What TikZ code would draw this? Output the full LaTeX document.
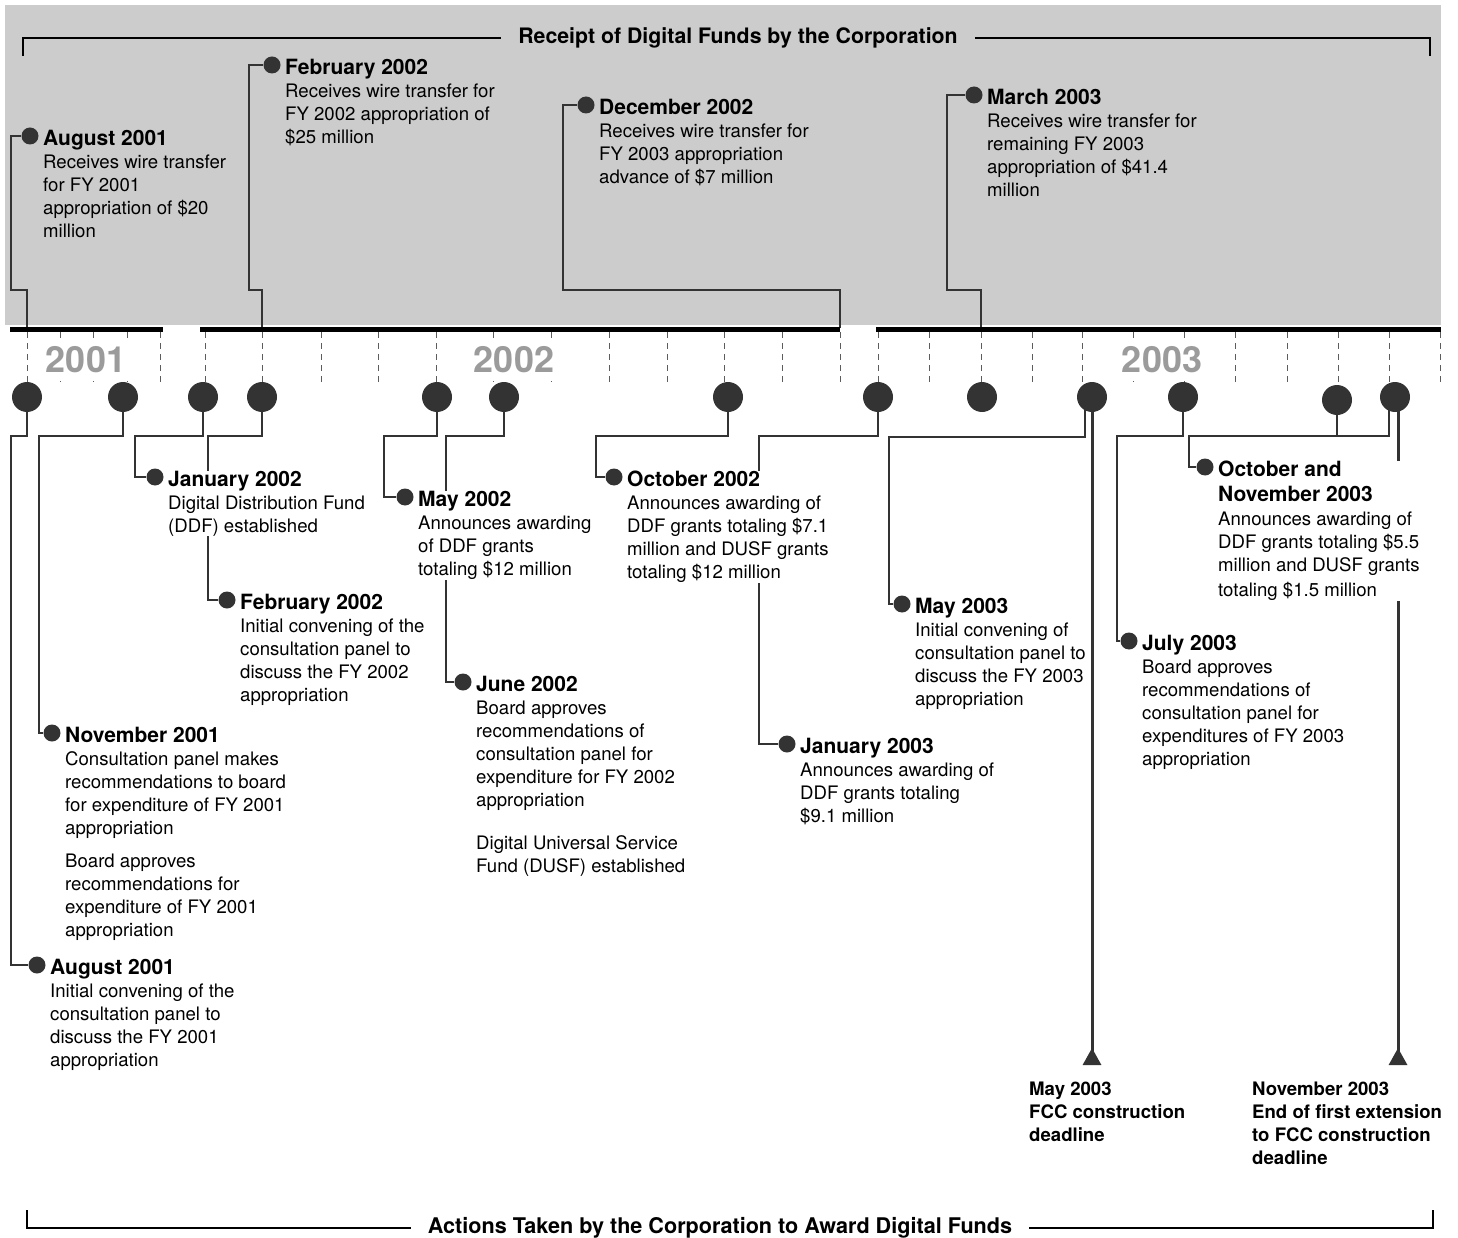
\documentclass[tikz,border=0pt]{standalone}
\usepackage{fontspec}
\setmainfont{TeX Gyre Heros}
\usetikzlibrary{arrows.meta,positioning,backgrounds}
\definecolor{panel}{RGB}{204,204,204}
\definecolor{ink}{RGB}{51,51,51}
\definecolor{yeargray}{RGB}{155,155,155}
\newcommand{\evhead}[1]{{\fontsize{21}{23}\selectfont\bfseries #1}}

\begin{document}
\begin{tikzpicture}[x=1pt,y=-1pt,
    month/.style={circle,fill=ink,minimum size=30pt,inner sep=0pt},
    evdot/.style={circle,fill=ink,minimum size=17pt,inner sep=0pt},
    evtext/.style={anchor=north west,inner sep=0pt,align=left,font=\fontsize{18.6}{23}\selectfont},
    plain/.style={},
    cover/.style={fill=white},
    link/.style={ink,line width=1.4pt},
    bracket/.style={black,line width=2.5pt},
    deadline/.style={ink,line width=3pt,-{Triangle[reversed,width=18pt,length=17pt]}},
    yearlbl/.style={font=\fontsize{36}{36}\selectfont\bfseries,text=yeargray,fill=white,inner xsep=4pt,inner ysep=8pt},
    headlbl/.style={font=\fontsize{21.3}{23}\selectfont\bfseries,inner ysep=0pt,inner xsep=17pt},
    dltext/.style={anchor=north west,inner sep=0pt,align=left,font=\fontsize{18.6}{23}\selectfont\bfseries}]

  \useasboundingbox (0,0) rectangle (1458,1238);
  \begin{scope}[on background layer]
    \fill[panel] (5,5) rectangle (1441,325);
  \end{scope}

  % brackets with titles
  \node[headlbl] (receipt) at (738,38) {Receipt of Digital Funds by the Corporation};
  \draw[bracket] (23,56) |- (receipt.west);
  \draw[bracket] (receipt.east) -| (1430,56);
  \node[headlbl,font=\fontsize{21.6}{23}\selectfont\bfseries] (actions) at (720,1228) {Actions Taken by the Corporation to Award Digital Funds};
  \draw[bracket] (27,1210) |- (actions.west);
  \draw[bracket] (actions.east) -| (1433,1210);

  % timeline bars
  \draw[black,line width=5pt] (10,329.5) -- (163,329.5);
  \draw[black,line width=5pt] (200,329.5) -- (840,329.5);
  \draw[black,line width=5pt] (876,329.5) -- (1441,329.5);

  % month ticks
  \foreach \x in {27,60,93,127,160,205,262,321,378,436,493,551,609,667,724,782,840,
                  878,929,981,1032,1082,1133,1184,1235,1287,1338,1389,1440}
    \draw[ink!80,line width=1pt,dash pattern=on 6pt off 5pt] (\x,332) -- (\x,386);

  \node[yearlbl] (y2001) at (86,360) {2001};
  \node[yearlbl] (y2002) at (514,360) {2002};
  \node[yearlbl] (y2003) at (1162,360) {2003};

  % month circles
  \foreach \x/\n in {27/aug01,123/nov01,203/jan02,262/feb02,437/may02,504/jun02,728/oct02,
                     878/jan03,982/mar03,1092/may03,1183/jul03,1395/nov03}
    \node[month] (c-\n) at (\x,397) {};
  \node[month] (c-oct03) at (1337,400) {};

  % points on the timeline
  \coordinate (t-aug01) at (27,328);
  \coordinate (t-feb02) at (262,328);
  \coordinate (t-dec02) at (840,328);
  \coordinate (t-mar03) at (981,328);

  % events
  \foreach \n/\tx/\y/\s/\t in {
    aug01/43/136/plain/{\evhead{August 2001}\\Receives wire transfer\\for FY 2001\\appropriation of \$20\\million},
    feb02/285/65/plain/{\evhead{February 2002}\\Receives wire transfer for\\FY 2002 appropriation of\\\$25 million},
    dec02/599/105/plain/{\evhead{December 2002}\\Receives wire transfer for\\FY 2003 appropriation\\advance of \$7 million},
    mar03/987/95/plain/{\evhead{March 2003}\\Receives wire transfer for\\remaining FY 2003\\appropriation of \$41.4\\million},
    jan02/168/477/cover/{\evhead{January 2002}\\Digital Distribution Fund\\(DDF) established},
    feb02b/240/600/plain/{\evhead{February 2002}\\Initial convening of the\\consultation panel to\\discuss the FY 2002\\appropriation},
    nov01/65/733/plain/{\evhead{November 2001}\\Consultation panel makes\\recommendations to board\\for expenditure of FY 2001\\appropriation\\[10pt]Board approves\\recommendations for\\expenditure of FY 2001\\appropriation},
    aug01b/50/965/plain/{\evhead{August 2001}\\Initial convening of the\\consultation panel to\\discuss the FY 2001\\appropriation},
    may02/418/497/cover/{\evhead{May 2002}\\Announces awarding\\of DDF grants\\totaling \$12 million},
    jun02/476/682/plain/{\evhead{June 2002}\\Board approves\\recommendations of\\consultation panel for\\expenditure for FY 2002\\appropriation\\[20pt]Digital Universal Service\\Fund (DUSF) established},
    oct02/627/477/cover/{\evhead{October 2002}\\Announces awarding of\\DDF grants totaling \$7.1\\million and DUSF grants\\totaling \$12 million},
    jan03/800/744/plain/{\evhead{January 2003}\\Announces awarding of\\DDF grants totaling\\\$9.1 million},
    may03/915/604/plain/{\evhead{May 2003}\\Initial convening of\\consultation panel to\\discuss the FY 2003\\appropriation},
    jul03/1142/641/plain/{\evhead{July 2003}\\Board approves\\recommendations of\\consultation panel for\\expenditures of FY 2003\\appropriation},
    octnov/1218/467/cover/{\evhead{October and}\\[2pt]\evhead{November 2003}\\[1pt]Announces awarding of\\DDF grants totaling \$5.5\\million and DUSF grants\\[2pt]totaling \$1.5 million}}
  {
    \node[evdot] (d-\n) at (\tx-13,\y) {};
    \node[evtext,\s] (e-\n) at (\tx,\y-6) {\t};
  }

  % construction deadlines
  \coordinate (dl-may03) at (1092,1065);
  \coordinate (dl-nov03) at (1398,1065);
  \node[dltext] (dt-may03) at (1029,1082) {May 2003\\FCC construction\\deadline};
  \node[dltext] (dt-nov03) at (1252,1082) {November 2003\\End of first extension\\to FCC construction\\deadline};

  \begin{scope}[on background layer]
    \foreach \t/\v in {aug01/11,feb02/249,dec02/563,mar03/947}
      \draw[link] (t-\t) |- (\v,290) |- (d-\t.west);
    \foreach \c/\v/\e in {aug01/11/aug01b,nov01/39/nov01,jan02/135/jan02,feb02/208/feb02b,
                          may02/384/may02,jun02/446/jun02,oct02/596/oct02,jan03/759/jan03,
                          jul03/1117/jul03,oct03/1189/octnov}
      \draw[link] (c-\c.center) |- (\v,436) |- (d-\e.west);
    \draw[link] ([xshift=-7pt]c-may03.center) |- (889,437) |- (d-may03.west);
    \draw[link] ([xshift=-6pt]c-nov03.center) |- (1189,436);
    \draw[deadline] (c-may03.center) -- (dl-may03);
    \draw[deadline] ([xshift=3pt]c-nov03.center) -- (dl-nov03);
  \end{scope}
\end{tikzpicture}
\end{document}
